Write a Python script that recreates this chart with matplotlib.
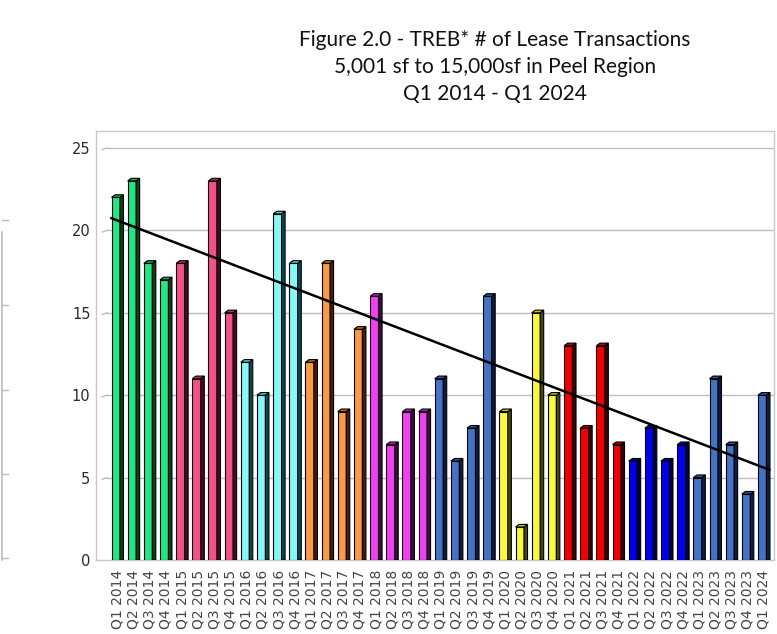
import matplotlib
matplotlib.use("Agg")
import matplotlib.pyplot as plt
from matplotlib.patches import Polygon
from matplotlib.lines import Line2D
import numpy as np

# quarterly lease transaction counts, Q1 2014 - Q1 2024
years = [2014, 2015, 2016, 2017, 2018, 2019, 2020, 2021, 2022, 2023, 2024]
counts = [
    22, 23, 18, 17,   # 2014
    18, 11, 23, 15,   # 2015
    12, 10, 21, 18,   # 2016
    12, 18, 9, 14,    # 2017
    16, 7, 9, 9,      # 2018
    11, 6, 8, 16,     # 2019
    9, 2, 15, 10,     # 2020
    13, 8, 13, 7,     # 2021
    6, 8, 6, 7,       # 2022
    5, 11, 7, 4,      # 2023
    10,               # 2024
]
labels = [f"Q{q} {y}" for y in years for q in range(1, 5)][:len(counts)]

# trend line as drawn in the source (value at first and last quarter)
trend_ends = [20.6, 5.6]

# (front face, side face, top face) per year
YEAR_COLORS = {
    2014: ("#22E682", "#0B3D1E", "#14A85C"),
    2015: ("#F2508C", "#4A0C22", "#B03060"),
    2016: ("#86F8F8", "#0C4A50", "#5CC8CC"),
    2017: ("#F89A48", "#4E1C04", "#C06A28"),
    2018: ("#F040F0", "#420A42", "#B028B0"),
    2019: ("#4472C4", "#0C1C42", "#2E5294"),
    2020: ("#F8F840", "#484808", "#C0C020"),
    2021: ("#F20000", "#420000", "#B00000"),
    2022: ("#0000EE", "#000040", "#0000A8"),
    2023: ("#4472C4", "#0C1C42", "#2E5294"),
    2024: ("#4472C4", "#0C1C42", "#2E5294"),
}


def main():
    fig = plt.figure(figsize=(7.77, 6.34), dpi=100)
    fig.patch.set_facecolor("white")
    ax = fig.add_axes([96 / 777, 74 / 634, 678 / 777, 429 / 634])

    x = np.arange(len(counts))
    bar_years = [int(lab.split()[1]) for lab in labels]
    fronts = [YEAR_COLORS[y][0] for y in bar_years]

    w_front, w_side, depth = 0.52, 0.22, 0.16
    left = -0.37

    ax.bar(x + left + w_front / 2, counts, width=w_front, color=fronts,
           edgecolor="black", linewidth=0.8, zorder=3)

    for xi, v, y in zip(x, counts, bar_years):
        _, side, top = YEAR_COLORS[y]
        x0 = xi + left
        x1 = x0 + w_front
        x2 = x1 + w_side
        ax.add_patch(Polygon([(x1, 0), (x2, 0), (x2, v + depth), (x1, v)],
                             closed=True, facecolor=side, edgecolor="black",
                             linewidth=0.8, zorder=3))
        ax.add_patch(Polygon([(x0, v), (x1, v), (x2, v + depth),
                              (x0 + w_side, v + depth)],
                             closed=True, facecolor=top, edgecolor="black",
                             linewidth=0.8, zorder=3))

    # trend line
    slope = (trend_ends[1] - trend_ends[0]) / (len(counts) - 1)
    tx = np.array([-0.45, len(counts) - 1 + 0.4])
    ax.plot(tx, trend_ends[0] + slope * tx, color="black", linewidth=1.8,
            zorder=5, solid_capstyle="butt")

    ax.set_xlim(-1.33, 40.62)
    ax.set_ylim(0, 26.03)
    ax.set_yticks([0, 5, 10, 15, 20, 25])
    ax.tick_params(axis="y", length=0, pad=4, labelsize=10.5,
                   labelcolor="#2A2A2A")
    ax.set_xticks(x)
    ax.set_xticklabels(labels, rotation=90, fontsize=10, color="#444444")
    ax.tick_params(axis="x", length=0, pad=7)

    for yv in [5, 10, 15, 20, 25]:
        ax.plot([-0.65, 40.62], [yv, yv], color="#BDBDBD", linewidth=1.0,
                zorder=1)
        ax.plot([-0.95, -0.65], [yv - 0.1, yv], color="#BDBDBD",
                linewidth=1.0, zorder=1)

    for spine in ax.spines.values():
        spine.set_edgecolor("#C8C8C8")
        spine.set_linewidth(1.0)

    fig.text(0.637, 0.953, "Figure 2.0 - TREB* # of Lease Transactions\n"
             "5,001 sf to 15,000sf in Peel Region\nQ1 2014 - Q1 2024",
             ha="center", va="top", fontsize=15, family="Lato",
             linespacing=1.45, color="#111111")

    # edge of neighbouring chart cut off at the left
    fig.add_artist(Line2D([2 / 777, 2 / 777], [1 - 232 / 634, 1 - 560 / 634],
                          color="#BBBBBB", linewidth=1.2))
    for py in [220, 305, 390, 474, 558]:
        fig.add_artist(Line2D([2 / 777, 8 / 777], [1 - py / 634, 1 - py / 634],
                              color="#BBBBBB", linewidth=1.0))

    fig.savefig("out.png", dpi=100, facecolor="white")


if __name__ == "__main__":
    main()
